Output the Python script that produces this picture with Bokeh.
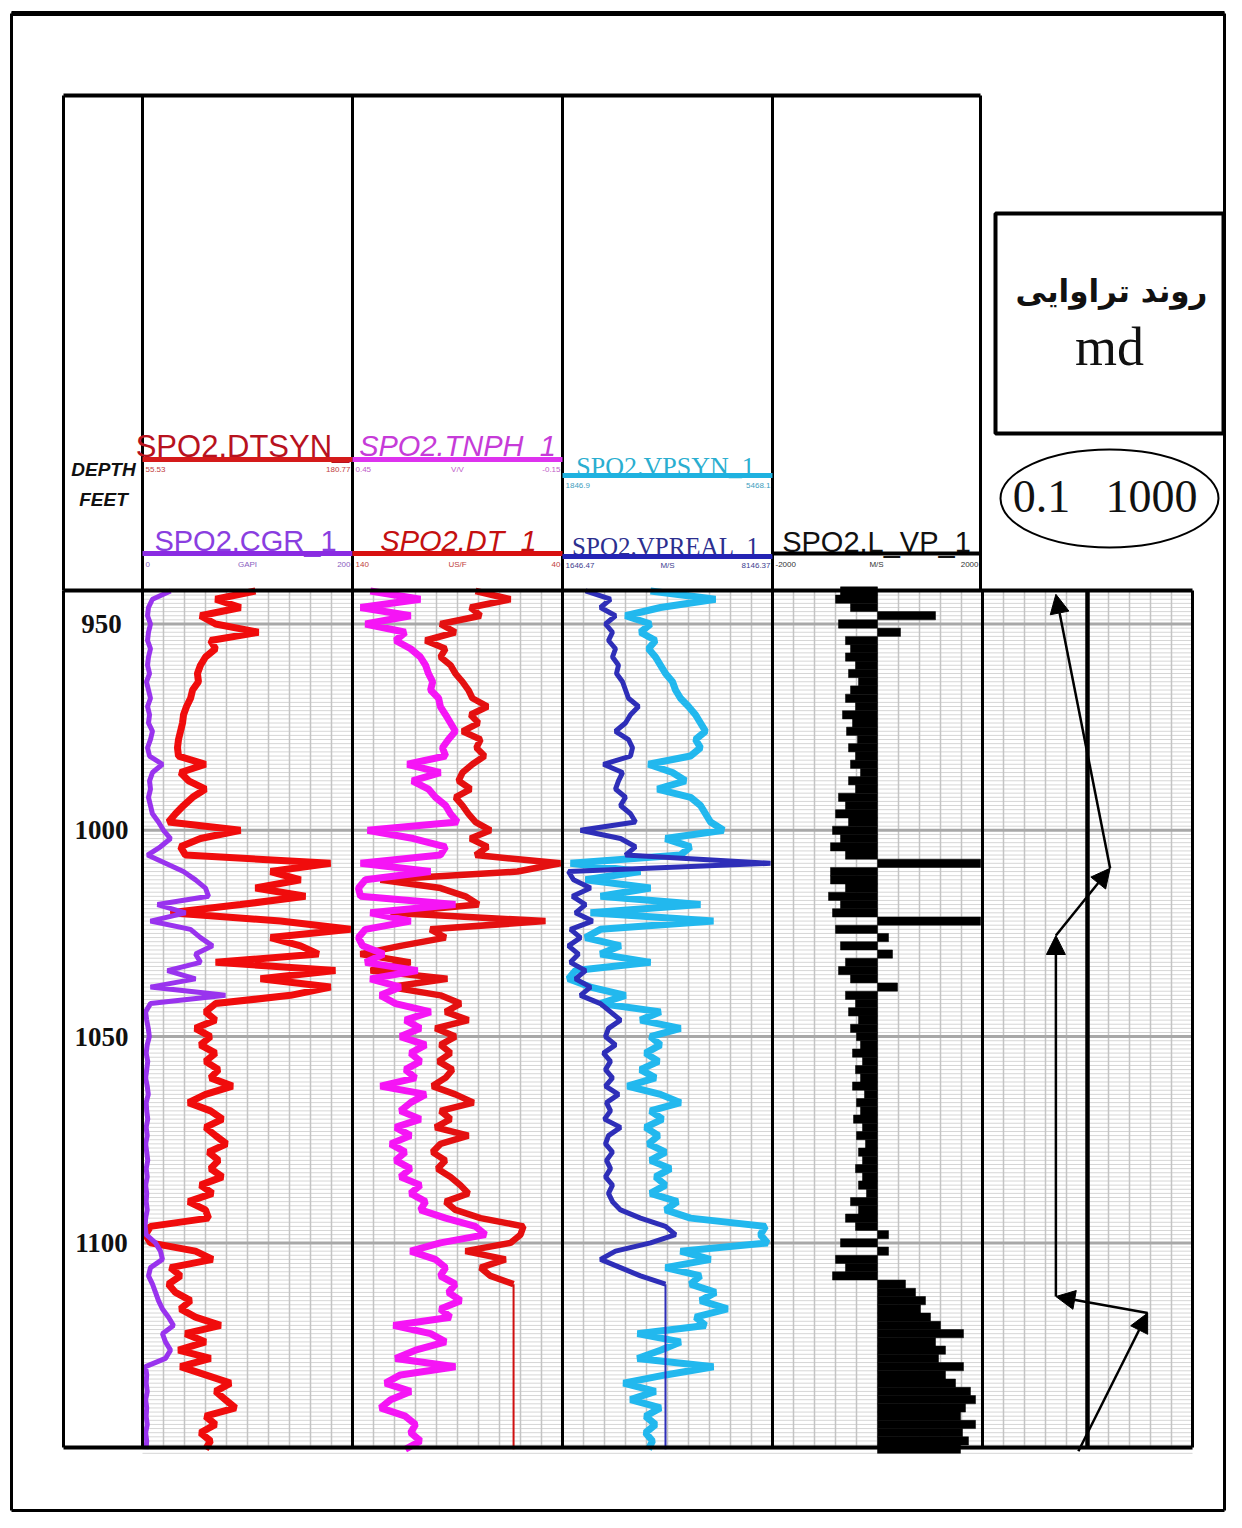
import numpy as np
from bokeh.plotting import figure
from bokeh.models import Range1d, LogScale, Arrow, NormalHead, ColumnDataSource
from bokeh.core.properties import value
from bokeh.embed import file_html
from bokeh.resources import INLINE

# ---------------- data ----------------
DEPTH = list(range(942, 1152, 2))  # ft, 2-ft sampling 942..1150

DTSYN = [122.9, 99.1, 114.0, 90.1, 99.1, 124.7, 96.1, 99.1, 93.1, 90.1,
         88.3, 88.9, 85.4, 84.2, 81.8, 80.0, 79.4, 78.2, 77.0, 76.4,
         77.0, 93.1, 78.2, 83.0, 93.1, 85.4, 80.0, 75.2, 71.0, 114.0,
         90.1, 78.2, 81.2, 167.7, 131.9, 149.8, 122.9, 152.7, 114.0, 72.2,
         137.8, 179.6, 131.9, 149.8, 160.5, 99.1, 170.6, 125.9, 167.7, 143.8,
         99.1, 93.1, 99.1, 87.1, 96.1, 90.1, 99.1, 93.1, 100.9, 96.1,
         109.2, 93.1, 83.0, 96.1, 103.2, 93.1, 99.1, 105.6, 94.9, 100.9,
         96.1, 103.2, 90.1, 97.3, 83.0, 93.1, 94.9, 60.3, 57.3, 60.3,
         87.1, 97.3, 72.2, 78.2, 71.0, 75.2, 84.2, 78.2, 87.1, 102.1,
         81.2, 93.1, 77.0, 96.1, 78.2, 93.1, 108.0, 99.1, 105.0, 111.0,
         93.1, 99.1, 90.1, 96.1, 93.1]

CGR = [26.7, 9.5, 5.7, 4.8, 7.6, 5.7, 4.8, 7.6, 5.7, 4.8,
       6.7, 3.8, 5.7, 7.6, 4.8, 6.7, 5.7, 9.5, 7.6, 4.8,
       6.7, 19.0, 9.5, 6.7, 7.6, 5.7, 7.6, 9.5, 15.2, 20.0,
       26.7, 17.1, 4.8, 21.9, 39.0, 50.5, 60.0, 62.9, 14.3, 41.0,
       7.6, 45.7, 55.2, 66.7, 50.5, 55.2, 23.8, 50.5, 7.6, 79.0,
       7.6, 2.9, 4.0, 5.5, 6.5, 4.5, 3.5, 5.0, 4.0, 3.0,
       4.5, 5.5, 3.5, 4.0, 5.0, 3.5, 4.5, 3.0, 4.0, 5.0,
       3.5, 4.5, 3.0, 4.0, 3.5, 4.5, 3.0, 2.5, 3.5, 12.4,
       17.1, 19.0, 7.6, 5.7, 9.5, 12.4, 15.2, 19.0, 24.8, 29.5,
       19.0, 21.9, 26.7, 21.9, 2.9, 4.0, 3.5, 4.5, 3.0, 4.0,
       3.5, 4.5, 3.0, 4.0, 3.5]

TNPH = [0.399, 0.256, 0.427, 0.284, 0.413, 0.299, 0.327, 0.284, 0.256, 0.241,
        0.233, 0.221, 0.227, 0.204, 0.199, 0.184, 0.170, 0.156, 0.176, 0.193,
        0.184, 0.293, 0.199, 0.279, 0.233, 0.213, 0.184, 0.170, 0.150, 0.407,
        0.276, 0.184, 0.199, 0.427, 0.227, 0.413, 0.433, 0.427, 0.156, 0.399,
        0.284, 0.413, 0.433, 0.421, 0.361, 0.413, 0.264, 0.399, 0.313, 0.370,
        0.327, 0.227, 0.299, 0.256, 0.313, 0.241, 0.284, 0.256, 0.299, 0.270,
        0.370, 0.241, 0.284, 0.313, 0.256, 0.327, 0.284, 0.341, 0.299, 0.327,
        0.284, 0.313, 0.256, 0.284, 0.241, 0.256, 0.184, 0.099, 0.070, 0.199,
        0.284, 0.213, 0.184, 0.199, 0.156, 0.176, 0.141, 0.199, 0.170, 0.333,
        0.227, 0.184, 0.270, 0.327, 0.156, 0.313, 0.356, 0.284, 0.341, 0.370,
        0.299, 0.270, 0.284, 0.256, 0.299]

DT = [81.4, 64.8, 83.8, 79.0, 98.1, 91.0, 105.2, 95.7, 98.1, 93.3,
      91.0, 87.6, 84.8, 82.9, 75.7, 83.8, 80.0, 87.6, 79.0, 81.0,
      77.1, 82.9, 87.6, 89.5, 83.8, 91.0, 87.6, 84.8, 81.4, 74.3,
      83.8, 75.7, 81.4, 41.0, 61.4, 126.7, 98.1, 86.2, 80.0, 121.9,
      48.1, 102.9, 95.7, 117.1, 136.2, 112.4, 131.4, 94.8, 121.9, 98.1,
      88.6, 95.7, 84.8, 100.5, 91.0, 98.1, 93.3, 99.0, 92.4, 95.7,
      101.9, 91.0, 82.4, 98.1, 93.3, 100.5, 84.8, 98.1, 101.9, 95.7,
      99.5, 93.3, 88.6, 84.8, 95.7, 91.0, 79.0, 58.6, 60.0, 64.8,
      86.2, 67.1, 79.0, 74.3, 63.3, 63.3, 63.3, 63.3, 63.3, 63.3,
      63.3, 63.3, 63.3, 63.3, 63.3, 63.3, 63.3, 63.3, 63.3, 63.3,
      63.3, 63.3, 63.3, 63.3, 63.3]

VPSYN = [3364.4, 4485.2, 3536.8, 2933.3, 3364.4, 3191.9, 3450.6, 3329.9, 3450.6, 3536.8,
         3623.0, 3743.7, 3795.4, 3881.7, 4019.6, 4140.3, 4226.5, 4312.8, 4140.3, 4226.5,
         4054.1, 3329.9, 3743.7, 3968.0, 3485.1, 4054.1, 4226.5, 4312.8, 4399.0, 4623.2,
         3623.0, 4054.1, 3881.7, 1984.9, 3191.9, 2243.5, 3364.4, 2502.2, 4226.5, 2329.7,
         4450.7, 2502.2, 2243.5, 2847.0, 2502.2, 3364.4, 2071.1, 1950.4, 2329.7, 2933.3,
         2502.2, 3536.8, 3191.9, 3881.7, 3364.4, 3536.8, 3278.1, 3502.3, 3191.9, 3450.6,
         2967.7, 3536.8, 3881.7, 3364.4, 3571.3, 3278.1, 3502.3, 3329.9, 3623.0, 3364.4,
         3709.2, 3450.6, 3623.0, 3364.4, 3829.9, 3623.0, 4054.1, 5347.4, 5261.2, 5381.9,
         3881.7, 4399.0, 3623.0, 4226.5, 4054.1, 4485.2, 4226.5, 4692.1, 4140.3, 4312.8,
         3140.2, 3881.7, 3536.8, 3140.2, 4450.7, 3623.0, 2898.8, 3450.6, 3019.5, 3536.8,
         3278.1, 3450.6, 3278.1, 3398.8, 3329.9]

VPREAL = [2358.4, 3132.2, 2822.6, 3286.9, 2977.4, 3194.1, 3070.3, 3286.9, 3194.1, 3379.8,
          3317.9, 3503.6, 3596.4, 3689.3, 3998.8, 3751.2, 3596.4, 3286.9, 3689.3, 3813.1,
          3751.2, 2915.5, 3503.6, 3379.8, 3286.9, 3596.4, 3441.7, 3751.2, 3906.0, 2203.6,
          3441.7, 3906.0, 3596.4, 8084.5, 1832.2, 1987.0, 2513.1, 1956.0, 2358.4, 2048.8,
          2575.0, 1894.1, 2203.6, 1832.2, 2141.7, 1894.1, 2358.4, 2048.8, 2513.1, 2203.6,
          2822.6, 3132.2, 3441.7, 3070.3, 2977.4, 3286.9, 2915.5, 3132.2, 2977.4, 3194.1,
          2977.4, 3379.8, 3008.4, 3132.2, 2946.5, 3441.7, 3070.3, 2977.4, 3194.1, 3008.4,
          3132.2, 2977.4, 3194.1, 3070.3, 3194.1, 3441.7, 4060.7, 4834.5, 5144.0, 4370.2,
          3286.9, 2822.6, 3441.7, 4060.7, 4834.5, 4834.5, 4834.5, 4834.5, 4834.5, 4834.5,
          4834.5, 4834.5, 4834.5, 4834.5, 4834.5, 4834.5, 4834.5, 4834.5, 4834.5, 4834.5,
          4834.5, 4834.5, 4834.5, 4834.5, 4834.5]

L_VP = [-705, -800, -514, 1105, -743, 438, -610, -514, -610, -419,
        -552, -362, -514, -610, -419, -667, -476, -590, -381, -552,
        -419, -514, -324, -552, -419, -743, -610, -800, -552, -857,
        -705, -895, -610, 1962, -895, -895, -610, -933, -705, -857,
        1962, -800, 210, -705, 286, -610, -743, -514, 381, -610,
        -419, -552, -362, -514, -400, -324, -476, -286, -419, -324,
        -476, -248, -400, -324, -457, -286, -400, -229, -362, -286,
        -419, -286, -362, -210, -514, -362, -610, -419, 210, -705,
        210, -800, -610, -857, 533, 724, 914, 819, 1010, 1200,
        1638, 1105, 1295, 1162, 1638, 1295, 1486, 1771, 1867, 1676,
        1581, 1867, 1619, 1733, 1581]

# permeability trend (md, log scale) from bottom to top
PERM_DEPTH = [1150.5, 1117.0, 1113.0, 1025.5, 1009.2, 942.8]
PERM_MD = [6.7, 140.0, 2.5, 2.5, 27.0, 2.5]

DEPTH_TICKS = [950, 1000, 1050, 1100]

# ---------------- layout (screen pixels) ----------------
X0, X1 = 0, 1226
Y0, Y1 = 0, 1512
Y950, PX_FT = 623.5, 4.126
TOP_DATA, BOT_DATA = 590, 1447
HDR_TOP = 95
T1, T2, T3, T4, T5 = (142, 352), (352, 562), (562, 772), (772, 982), (982, 1192)


def lin_range(lo, hi, xa, xb):
    k = (hi - lo) / (xb - xa)
    return Range1d(start=lo + (X0 - xa) * k, end=lo + (X1 - xa) * k)


p = figure(width=X1 - X0, height=Y1 - Y0,
           x_range=Range1d(X0, X1), y_range=Range1d(Y1, Y0),
           output_backend="svg", toolbar_location=None, min_border=0,
           x_axis_type=None, y_axis_type=None,
           outline_line_color=None, background_fill_color="white",
           border_fill_color="white")

p.extra_y_ranges = {"depth": Range1d(start=950 + (Y1 - Y950) / PX_FT,
                                     end=950 + (Y0 - Y950) / PX_FT)}
lg0 = np.log10(0.1)
kk = 4.0 / (T5[1] - T5[0])
p.extra_x_ranges = {
    "dtsyn": lin_range(55.53, 180.77, *T1),
    "cgr": lin_range(0, 200, *T1),
    "tnph": lin_range(0.45, -0.15, *T2),
    "dt": lin_range(140, 40, *T2),
    "vpsyn": lin_range(1846.9, 5468.1, *T3),
    "vpreal": lin_range(1646.47, 8146.37, *T3),
    "lvp": lin_range(-2000, 2000, *T4),
    "perm": Range1d(start=10 ** (lg0 + (X0 - T5[0]) * kk),
                    end=10 ** (lg0 + (X1 - T5[0]) * kk)),
}
p.extra_x_scales = {"perm": LogScale()}

# ---------------- grid ----------------
feet = list(range(942, 1152))
p.segment(x0=T1[0], x1=T5[1], y0=feet, y1=feet, y_range_name="depth",
          line_color="#d6d6d6", line_width=1)
vx = []
for (a, b) in (T1, T2, T3, T4, T5):
    for k in range(1, 10):
        if (a, b) == T5 and k == 5:
            continue
        vx.append(a + (b - a) * k / 10)
p.segment(x0=vx, x1=vx, y0=TOP_DATA, y1=BOT_DATA, line_color="#c4c4c4",
          line_width=1.5)
p.segment(x0=T1[0], x1=T5[1], y0=DEPTH_TICKS, y1=DEPTH_TICKS,
          y_range_name="depth", line_color="#a8a8a8", line_width=3)

# ---------------- curves ----------------
cut = DEPTH.index(1110) + 1
p.line(DTSYN, DEPTH, x_range_name="dtsyn", y_range_name="depth",
       line_color="#f00c0c", line_width=7)
p.line(CGR, DEPTH, x_range_name="cgr", y_range_name="depth",
       line_color="#9933ee", line_width=5)
p.line(DT[:cut], DEPTH[:cut], x_range_name="dt", y_range_name="depth",
       line_color="#e41010", line_width=6.5)
p.line(DT[cut - 1:], DEPTH[cut - 1:], x_range_name="dt", y_range_name="depth",
       line_color="#d01010", line_width=2)
p.line(TNPH, DEPTH, x_range_name="tnph", y_range_name="depth",
       line_color="#f515f5", line_width=7)
p.line(VPSYN, DEPTH, x_range_name="vpsyn", y_range_name="depth",
       line_color="#22b8ee", line_width=7)
p.line(VPREAL[:cut], DEPTH[:cut], x_range_name="vpreal", y_range_name="depth",
       line_color="#2e2eb8", line_width=5)
p.line(VPREAL[cut - 1:], DEPTH[cut - 1:], x_range_name="vpreal",
       y_range_name="depth", line_color="#2e2eb8", line_width=2)
p.hbar(y=DEPTH, left=0, right=L_VP, height=2.0, x_range_name="lvp",
       y_range_name="depth", fill_color="black", line_color="black",
       line_width=0.5)

src = ColumnDataSource(dict(x0=PERM_MD[:-1], y0=PERM_DEPTH[:-1],
                            x1=PERM_MD[1:], y1=PERM_DEPTH[1:]))
p.add_layout(Arrow(end=NormalHead(size=19, fill_color="black", line_color="black"),
                   x_start="x0", y_start="y0", x_end="x1", y_end="y1",
                   source=src, x_range_name="perm", y_range_name="depth",
                   line_width=2.5, line_color="black"))

# ---------------- frames ----------------
K = "black"
p.segment(x0=[11, 11, 1224, 11], x1=[1224, 11, 1224, 1224],
          y0=[13, 13, 13, 1510], y1=[13, 1510, 1510, 1510],
          line_color=K, line_width=3)
p.segment(x0=11, x1=1224, y0=13, y1=13, line_color=K, line_width=5)
p.segment(x0=63, x1=980, y0=HDR_TOP, y1=HDR_TOP, line_color=K, line_width=4)
hx = [63, 142, 352, 562, 772, 980]
p.segment(x0=hx, x1=hx, y0=HDR_TOP, y1=TOP_DATA, line_color=K, line_width=3)
p.segment(x0=[63, 63], x1=[1192, 1192], y0=[TOP_DATA, BOT_DATA],
          y1=[TOP_DATA, BOT_DATA], line_color=K, line_width=4)
dx = [63, 142, 352, 562, 772, 982, 1192]
p.segment(x0=dx, x1=dx, y0=TOP_DATA, y1=BOT_DATA, line_color=K, line_width=3)
p.segment(x0=1087, x1=1087, y0=TOP_DATA, y1=BOT_DATA, line_color=K, line_width=4.5)

# ---------------- header ----------------
SANS = "Liberation Sans"
SERIF = "Liberation Serif"


def txt(x, y, s, color, size, font, style="normal", align="center",
        baseline="alphabetic"):
    p.text(x=[x], y=[y], text=[s], text_color=color, text_font=value(font),
           text_font_size=f"{size}px", text_font_style=style,
           text_align=align, text_baseline=baseline)


def scale_line(track, y, color, w=5):
    p.segment(x0=track[0], x1=track[1] if track != T4 else 980, y0=y, y1=y,
              line_color=color, line_width=w)


def scale_labels(track, y, labels, color):
    a, b = track
    if track == T4:
        b = 980
    l, m, r = labels
    txt(a + 3, y, l, color, 8, SANS, align="left", baseline="middle")
    if m:
        txt((a + b) / 2, y, m, color, 8, SANS, baseline="middle")
    txt(b - 2, y, r, color, 8, SANS, align="right", baseline="middle")


txt(103, 469, "DEPTH", "#111111", 19, SANS, "bold italic", baseline="middle")
txt(103, 499, "FEET", "#111111", 19, SANS, "bold italic", baseline="middle")

txt(242, 446, "SPO2.DTSYN_", "#b8121e", 31, SANS)
scale_line(T1, 459, "#d41a1a")
scale_labels(T1, 469, ("55.53", "", "180.77"), "#c04040")
txt(245, 540, "SPO2.CGR_1", "#8a3ee0", 29, SANS)
scale_line(T1, 553, "#8a2be2")
scale_labels(T1, 564, ("0", "GAPI", "200"), "#8a60c0")

txt(457, 445, "SPO2.TNPH_1", "#c63bd8", 29, SANS, "italic")
scale_line(T2, 459, "#dd33ee")
scale_labels(T2, 469, ("0.45", "V/V", "-0.15"), "#c060c8")
txt(458, 540, "SPO2.DT_1", "#c41010", 29, SANS, "italic")
scale_line(T2, 553, "#d81010")
scale_labels(T2, 564, ("140", "US/F", "40"), "#c04040")

txt(665, 466, "SPO2.VPSYN_1", "#2aaed0", 26, SERIF)
scale_line(T3, 475, "#1fb2e0")
scale_labels(T3, 485, ("1846.9", "", "5468.1"), "#40a0c0")
txt(665, 546, "SPO2.VPREAL_1", "#2c2f8f", 25, SERIF)
scale_line(T3, 556, "#2424b4")
scale_labels(T3, 565, ("1646.47", "M/S", "8146.37"), "#404090")

txt(876, 541, "SPO2.L_VP_1", "#111111", 29, SANS)
scale_line(T4, 553, "black", 4)
scale_labels(T4, 564, ("-2000", "M/S", "2000"), "#333333")

for d in DEPTH_TICKS:
    p.text(x=[101], y=[d], text=[str(d)], y_range_name="depth",
           text_font=value(SERIF), text_font_style="bold",
           text_font_size="27px", text_align="center",
           text_baseline="middle", text_color="#111111")

# right box
p.quad(left=995, right=1223, top=213, bottom=433, fill_color=None,
       line_color="black", line_width=4)
txt(1111, 290, "روند تراوایی", "#111111", 31, "DejaVu Sans", "bold",
    baseline="middle")
txt(1109, 346, "md", "#111111", 54, SERIF, baseline="middle")
p.ellipse(x=[1109], y=[498], width=218, height=98, fill_color=None,
          line_color="black", line_width=2)
txt(1041, 496, "0.1", "#111111", 46, SERIF, baseline="middle")
txt(1151, 496, "1000", "#111111", 46, SERIF, baseline="middle")

open("out.html", "w").write(file_html(p, INLINE))
